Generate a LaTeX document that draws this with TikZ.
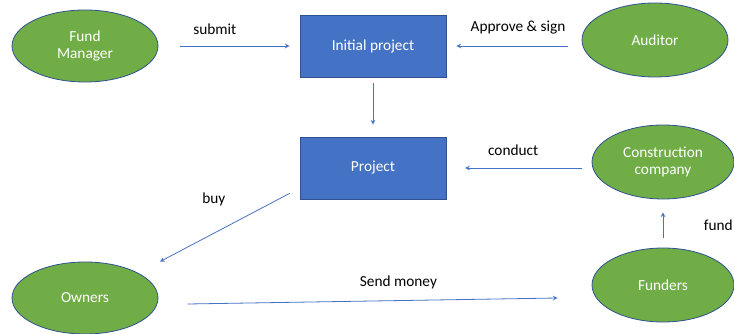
\documentclass[tikz,border=0pt]{standalone}
\usepackage{fontspec}
\setmainfont{Carlito}
\usetikzlibrary{calc,shapes.geometric}
\definecolor{actor}{HTML}{70AD47}
\definecolor{box}{HTML}{4472C4}
\definecolor{edge}{HTML}{2F528F}
\tikzset{
    actor/.style={ellipse, draw=edge, line width=0.6pt, fill=actor, text=white, align=center, minimum width=109.5pt, minimum height=54pt, inner sep=0pt},
    stage/.style={rectangle, draw=edge, line width=0.6pt, fill=box, text=white, minimum width=109.5pt, minimum height=46.5pt},
    flow/.style={->, >=stealth, draw=box, line width=0.6pt}
}
\begin{document}
\begin{tikzpicture}[x=0.75pt, y=-0.75pt, font=\fontsize{11.5}{13}\selectfont]
        \useasboundingbox (0,0) rectangle (734,334);
        %%%%%%%%%% Nodi %%%%%%%%%%
        \node[actor] (FM) at (85,46) {Fund\\Manager};
        \node[stage] (IP) at (373,46) {Initial project};
        \node[actor, minimum height=55.5pt] (AU) at (655,40) {Auditor};
        \node[stage] (PR) at (373,168) {Project};
        \node[actor, minimum width=106.5pt, minimum height=55.5pt] (CC) at (663,162) {Construction\\company};
        \node[actor] (OW) at (85,298) {Owners};
        \node[actor, minimum width=106.5pt, minimum height=55.5pt] (FU) at (663,285) {Funders};

        %%%%%%%%% Archi %%%%%%%%%%
        \draw[flow, shorten <=16.5pt, shorten >=7.5pt] (FM.east |- IP) -- node[pos=0.4, above=5pt] {submit} (IP.west);
        \draw[flow, shorten <=10.5pt, shorten >=7.5pt] (AU.west |- IP) -- node[pos=0.47, above=5pt] {Approve \& sign} (IP.east);
        \draw[flow, shorten <=4.5pt, shorten >=9pt] (IP) -- (PR);
        \draw[flow, shorten <=7.5pt, shorten >=14pt] (CC.west |- PR) -- node[pos=0.54, above=6pt] {conduct} (PR.east);
        \draw[flow] ($(PR.south west)+(-10,-6)$) -- node[pos=0.5, xshift=-8.25pt, yshift=21pt] {buy} ($(OW.north)+(75,0)$);
        \draw[flow] ($(OW.east)+(29,6)$) -- node[pos=0.57, above=5pt] {Send money} ($(FU.west)+(-34,13)$);
        \draw[flow, shorten <=7.5pt, shorten >=9.75pt] (FU) -- node[pos=0.47, right=27pt] {fund} (CC);
    \end{tikzpicture}
\end{document}
